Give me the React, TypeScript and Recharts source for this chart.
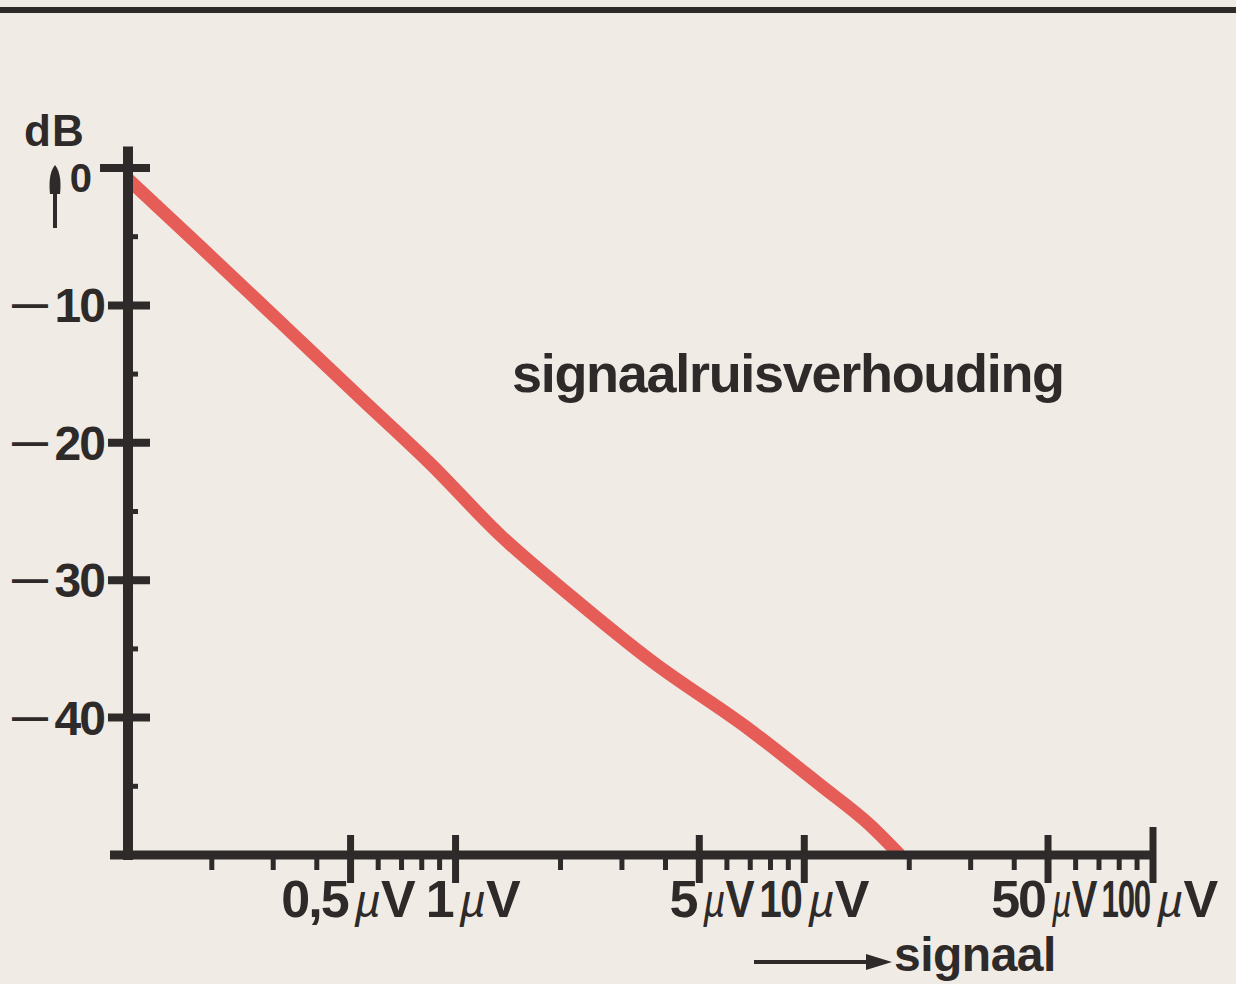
import React from 'react';
import { LineChart, Line, XAxis, YAxis } from 'recharts';

// signal (µV) vs signal-to-noise ratio (dB)
const signalUV = [0.115, 0.185, 0.314, 0.532, 0.845, 1.34, 2.2, 3.61, 6.99, 11.1, 15.4, 18.8];
const snrDb = [-0.8, -5.7, -11.2, -16.7, -21.5, -26.7, -31.4, -35.8, -40.9, -44.9, -47.8, -50];

const xMajorTicks = [0.5, 1, 5, 10, 50, 100];
const xMajorLabels = ['0,5', '1', '5', '10', '50', '100'];
const xMinorTicks = [0.2, 0.3, 0.4, 0.6, 0.7, 0.8, 0.9, 2, 3, 4, 6, 7, 8, 9, 20, 30, 40, 60, 70, 80, 90];
const yMajorTicks = [0, -10, -20, -30, -40];
const yMajorLabels = ['0', '10', '20', '30', '40'];
const yMinorTicks = [-5, -15, -25, -35, -45];
const xDomain = [0.115, 100];
const yDomain = [-50, 1.2];

const unitMu = 'µ';
const unitV = 'V';
const yAxisTitle = 'dB';
const seriesName = 'signaalruisverhouding';
const xAxisTitle = 'signaal';

const data = signalUV.map((v, i) => ({ v, db: snrDb[i] }));
const xTicks = [xDomain[0], ...xMinorTicks, ...xMajorTicks].sort((a, b) => a - b);
const yTicks = [...yMajorTicks, ...yMinorTicks].sort((a, b) => b - a);

const INK = '#2e2a29';
const FONT = "'Liberation Sans', Arial, Helvetica, sans-serif";
const BG = '#f0ece5';
const RED = '#e5544f';

// horizontal condensing (style only) for the crowded tick labels
const numberScale: Record<string, number> = { '10': 0.78, '100': 0.6 };
const unitScale: Record<string, number> = { '5': 0.84, '50': 0.74 };

const XTick = (props: any) => {
  const { x, y, payload } = props;
  const v = payload.value;
  if (v === xDomain[0]) {
    return <line x1={x - 18} x2={x} y1={y} y2={y} stroke={INK} strokeWidth={9} />;
  }
  const mi = xMajorTicks.indexOf(v);
  if (mi < 0) {
    return <line x1={x} x2={x} y1={y} y2={y + 15} stroke={INK} strokeWidth={5} />;
  }
  const lab = xMajorLabels[mi];
  const up = v === 100 ? 28 : 20;
  const ns = numberScale[lab] ?? 1;
  const us = unitScale[lab] ?? 1;
  const by = y + 62;
  return (
    <g>
      <line x1={x} x2={x} y1={y - up} y2={y + 28} stroke={INK} strokeWidth={7} />
      <text
        x={0}
        y={0}
        transform={`translate(${x - 3},${by}) scale(${ns},1)`}
        textAnchor="end"
        fontFamily={FONT}
        fontWeight={700}
        fontSize={52}
        letterSpacing={-2}
        fill={INK}
      >
        {lab}
      </text>
      <text
        x={0}
        y={0}
        transform={`translate(${x + 4},${by}) scale(${us},1)`}
        textAnchor="start"
        fontFamily={FONT}
        fontWeight={700}
        fontSize={52}
        fill={INK}
      >
        <tspan fontStyle="italic" fontWeight={400} fontSize={46}>{unitMu}</tspan>
        <tspan>{unitV}</tspan>
      </text>
    </g>
  );
};

const YTick = (props: any) => {
  const { x, y, payload } = props;
  const v = payload.value;
  const mi = yMajorTicks.indexOf(v);
  if (mi < 0) {
    return <line x1={x} x2={x + 10} y1={y} y2={y} stroke={INK} strokeWidth={5} />;
  }
  if (v === 0) {
    return (
      <g>
        <line x1={x - 28} x2={x + 22} y1={y} y2={y} stroke={INK} strokeWidth={8} />
        <text x={x - 36} y={y + 24} textAnchor="end" fontFamily={FONT} fontWeight={700} fontSize={40} fill={INK}>
          {yMajorLabels[mi]}
        </text>
      </g>
    );
  }
  return (
    <g>
      <line x1={x - 20} x2={x + 22} y1={y} y2={y} stroke={INK} strokeWidth={8} />
      <text x={x - 24} y={y + 17} textAnchor="end" fontFamily={FONT} fontWeight={700} fontSize={48} letterSpacing={-2} fill={INK}>
        {yMajorLabels[mi]}
      </text>
      <text x={x - 80} y={y + 11} textAnchor="end" fontFamily={FONT} fontWeight={700} fontSize={36} fill={INK}>
        —
      </text>
    </g>
  );
};

export default function App() {
  return (
    <div style={{ position: 'absolute', left: 0, top: 0, width: 1236, height: 984, background: BG, overflow: 'hidden' }}>
      <LineChart
        width={1236}
        height={984}
        data={data}
        margin={{ top: 151.5, right: 83, bottom: 99, left: 68 }}
      >
        <XAxis
          dataKey="v"
          type="number"
          scale="log"
          domain={xDomain}
          allowDataOverflow
          ticks={xTicks}
          interval={0}
          height={30}
          tickSize={0}
          tickMargin={0}
          tickLine={false}
          axisLine={{ stroke: INK, strokeWidth: 9 }}
          tick={(p: any) => <XTick {...p} />}
        />
        <YAxis
          type="number"
          domain={yDomain}
          allowDataOverflow
          ticks={yTicks}
          interval={0}
          width={60}
          tickSize={0}
          tickMargin={0}
          tickLine={false}
          axisLine={{ stroke: INK, strokeWidth: 10, strokeLinecap: 'square' }}
          tick={(p: any) => <YTick {...p} />}
        />
        <Line
          dataKey="db"
          name={seriesName}
          type="monotone"
          stroke={RED}
          strokeWidth={13}
          strokeOpacity={0.95}
          dot={false}
          isAnimationActive={false}
        />
      </LineChart>
      <svg width={1236} height={984} style={{ position: 'absolute', left: 0, top: 0, pointerEvents: 'none' }}>
        <rect x={0} y={7} width={1236} height={6} fill={INK} />
        <text x={24} y={146} fontFamily={FONT} fontWeight={700} fontSize={44} letterSpacing={1} fill={INK}>{yAxisTitle}</text>
        <line x1={55} x2={55} y1={228} y2={188} stroke={INK} strokeWidth={4} />
        <path d="M55,165 C61,172 61,185 60,194 L50,194 C49,185 49,172 55,165 Z" fill={INK} />
        <text x={512} y={392} fontFamily={FONT} fontWeight={700} fontSize={54} letterSpacing={-1.3} fill={INK}>{seriesName}</text>
        <line x1={754} x2={872} y1={962} y2={962} stroke={INK} strokeWidth={4} />
        <polygon points="892,962 866,954 866,970" fill={INK} />
        <text x={894} y={971} fontFamily={FONT} fontWeight={700} fontSize={48} letterSpacing={-0.5} fill={INK}>{xAxisTitle}</text>
      </svg>
    </div>
  );
}
